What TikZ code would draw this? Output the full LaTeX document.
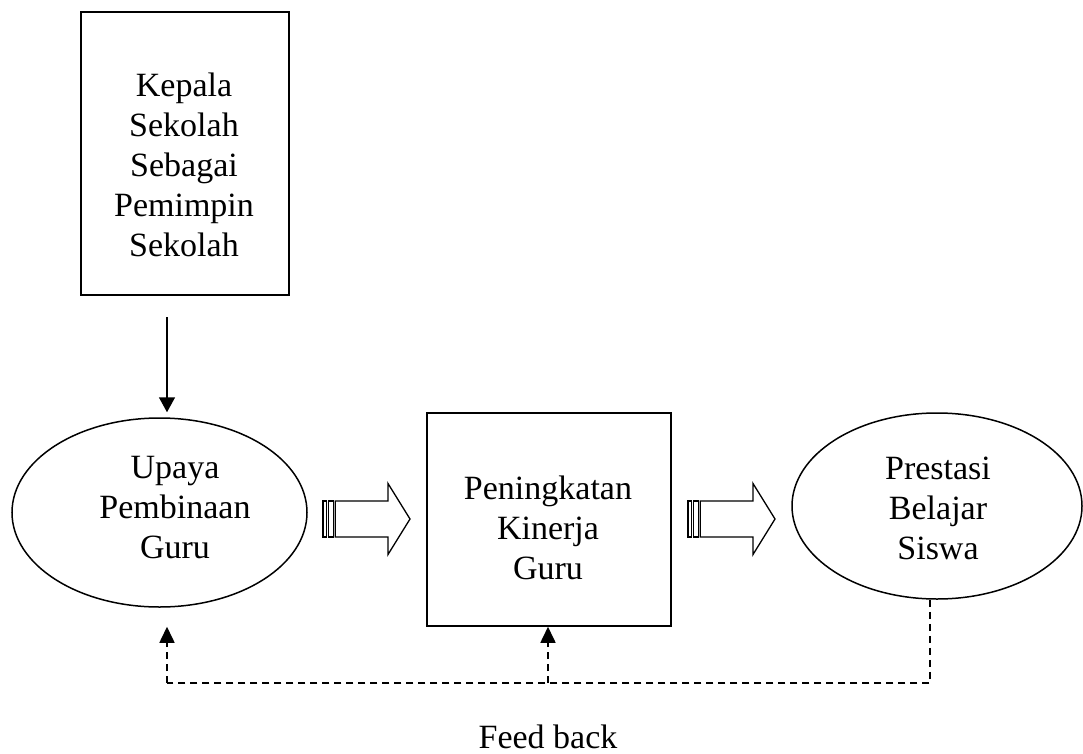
\documentclass[tikz,border=0pt]{standalone}
\usepackage{fontspec}
\setmainfont{Liberation Serif}
\usetikzlibrary{arrows.meta,shapes.geometric}
\begin{document}
\begin{tikzpicture}[x=1pt,y=-1pt,
  rectbox/.style={draw,line width=1.5pt,inner sep=0pt},
  oval/.style={draw,ellipse,line width=1.5pt,inner sep=0pt},
  txt/.style={align=center,font=\fontsize{34}{40}\selectfont,inner sep=0pt},
  solidarrow/.style={line width=1.5pt,-{Triangle[length=15pt,width=16pt]}},
  fbline/.style={line width=1.6pt,dash pattern=on 7pt off 5pt},
  fbarrow/.style={fbline,-{Triangle[length=16pt,width=15pt]}},
  blockarrow/.pic={
    \draw[line width=1.3pt] (0,-18) rectangle (3.7,18);
    \draw[line width=1.3pt] (5.7,-18) rectangle (10.3,18);
    \draw[line width=1.3pt,line join=miter] (12.3,-18) -- (65,-18) -- (65,-35.5) -- (87,0) -- (65,35.5) -- (65,18) -- (12.3,18) -- cycle;
  }
]
\useasboundingbox (0,0) rectangle (1083,754);

\node[rectbox,minimum width=208pt,minimum height=283pt] (kep) at (185,153.5) {};
\node[txt] (keptxt) at (184,165) {Kepala\\Sekolah\\Sebagai\\Pemimpin\\Sekolah};

\node[oval,minimum width=295pt,minimum height=189pt] (upaya) at (159.5,512.5) {};
\node[txt] (upayatxt) at (175,508) {Upaya\\Pembinaan\\Guru};

\node[rectbox,minimum width=244pt,minimum height=213pt] (kin) at (549,519.5) {};
\node[txt] (kintxt) at (548,528) {Peningkatan\\Kinerja\\Guru};

\node[oval,minimum width=290pt,minimum height=186pt] (pres) at (937,506) {};
\node[txt] (prestxt) at (938,508) {Prestasi\\Belajar\\Siswa};

\pic (ba1) at (323,519) {blockarrow};
\pic (ba2) at (688,519) {blockarrow};

\coordinate (d0) at (167,317);
\draw[solidarrow,shorten >=5pt] (d0) -- (d0 |- upaya.north);

\coordinate (fbR) at (930,683);
\coordinate (fbM) at (548,683);
\coordinate (fbL) at (167,683);
\draw[fbline] (fbR |- pres.south) -- (fbR) -- (fbL);
\draw[fbarrow] (fbL) -- (fbL |- kin.south);
\draw[fbarrow] (fbM) -- (fbM |- kin.south);

\node[txt,anchor=base] (fb) at (548,748) {Feed back};
\end{tikzpicture}
\end{document}
